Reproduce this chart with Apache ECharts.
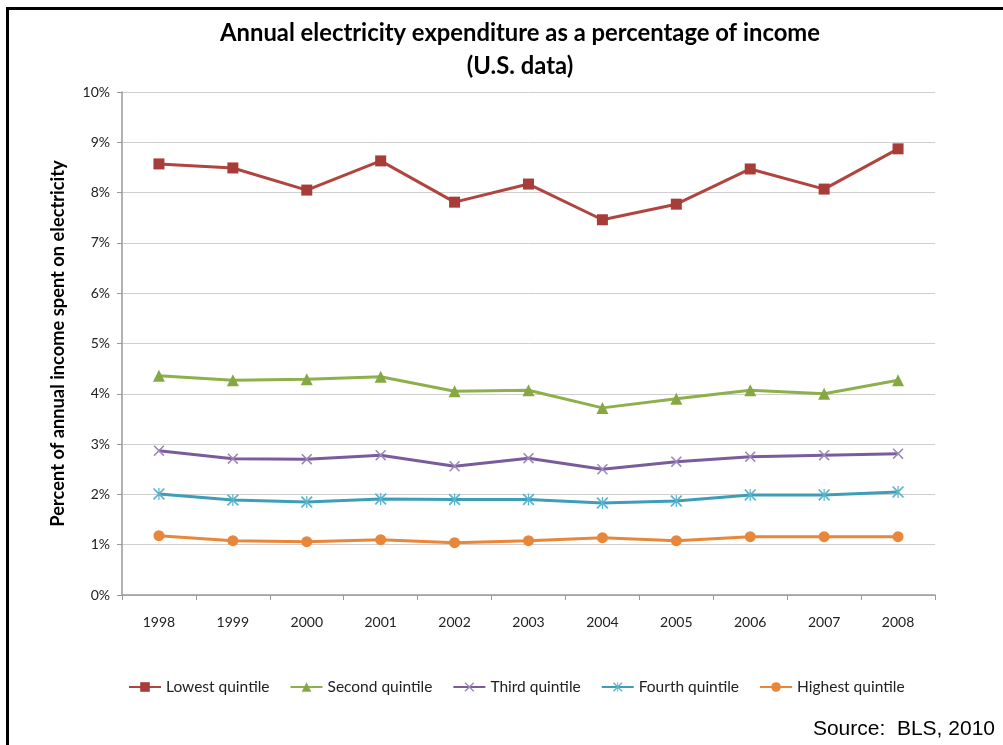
<!DOCTYPE html>
<html>
<head>
<meta charset="utf-8">
<script src="https://cdn.jsdelivr.net/npm/echarts@6/dist/echarts.min.js"></script>
<style>
html,body{margin:0;padding:0;background:#fff;}
#chart{width:1003px;height:745px;}
</style>
</head>
<body>
<div id="chart"></div>
<script>
const years = ['1998','1999','2000','2001','2002','2003','2004','2005','2006','2007','2008'];
const yTicks = ['0%','1%','2%','3%','4%','5%','6%','7%','8%','9%','10%'];
const lowest  = [8.57, 8.49, 8.05, 8.63, 7.81, 8.17, 7.46, 7.77, 8.47, 8.07, 8.87];
const second  = [4.36, 4.27, 4.29, 4.34, 4.05, 4.07, 3.72, 3.90, 4.07, 4.00, 4.27];
const third   = [2.87, 2.71, 2.70, 2.78, 2.56, 2.72, 2.50, 2.65, 2.75, 2.78, 2.81];
const fourth  = [2.01, 1.89, 1.85, 1.91, 1.90, 1.90, 1.83, 1.87, 1.99, 1.99, 2.05];
const highest = [1.18, 1.08, 1.06, 1.10, 1.04, 1.08, 1.14, 1.08, 1.16, 1.16, 1.16];
const seriesNames = ['Lowest quintile','Second quintile','Third quintile','Fourth quintile','Highest quintile'];

const FONT = 'Lato, "Open Sans", sans-serif';
const xSym = 'path://M0,0.1 L0.1,0 L0.5,0.4 L0.9,0 L1,0.1 L0.6,0.5 L1,0.9 L0.9,1 L0.5,0.6 L0.1,1 L0,0.9 L0.4,0.5 Z';
const starSym = 'path://M0,0.1 L0.1,0 L0.5,0.4 L0.9,0 L1,0.1 L0.6,0.5 L1,0.9 L0.9,1 L0.5,0.6 L0.1,1 L0,0.9 L0.4,0.5 Z M0.45,0 L0.55,0 L0.55,1 L0.45,1 Z';

function mk(name, data, color, symbol, size, symColor){
  return {
    name: name, type: 'line', data: data,
    symbol: symbol, symbolSize: size,
    lineStyle: {color: color, width: 3},
    itemStyle: {color: symColor || color, borderWidth: 0},
    emphasis: {disabled: true},
    animation: false
  };
}

const chart = echarts.init(document.getElementById('chart'));
chart.setOption({
  backgroundColor: '#ffffff',
  animation: false,
  title: {
    text: 'Annual electricity expenditure as a percentage of income\n(U.S. data)',
    left: 515, top: 12, textAlign: 'center',
    textStyle: {fontFamily: FONT, fontWeight: 'bold', fontSize: 23.8, lineHeight: 33, color: '#000'}
  },
  grid: {left: 122, right: 68, top: 92, bottom: 150, containLabel: false},
  legend: {
    bottom: 45, left: 123,
    itemWidth: 32, itemHeight: 12, itemGap: 20,
    textStyle: {fontFamily: FONT, fontSize: 15.5, color: '#222'},
    data: seriesNames
  },
  xAxis: {
    type: 'category', data: years, boundaryGap: true,
    axisLine: {lineStyle: {color: '#999', width: 1.5}},
    axisTick: {show: true, length: 5, lineStyle: {color: '#999'}},
    axisLabel: {margin: 20, fontFamily: FONT, fontSize: 14, color: '#222'},
    splitLine: {show: false}
  },
  yAxis: {
    type: 'value', min: 0, max: 10, interval: 1,
    name: 'Percent of annual income spent on electricity',
    nameLocation: 'middle', nameRotate: 90, nameGap: 55,
    nameTextStyle: {fontFamily: FONT, fontWeight: 'bold', fontSize: 18.3, color: '#000'},
    axisLine: {show: true, lineStyle: {color: '#999', width: 1.5}},
    axisTick: {show: true, length: 5, lineStyle: {color: '#999'}},
    axisLabel: {margin: 12, fontFamily: FONT, fontSize: 14, color: '#222',
      formatter: function(v){ return yTicks[Math.round(v)]; }},
    splitLine: {show: true, lineStyle: {color: '#cfcfcf', width: 1}}
  },
  series: [
    mk(seriesNames[0], lowest, '#B0443F', 'rect', 11, '#A83C38'),
    mk(seriesNames[1], second, '#8DB04B', 'triangle', 12, '#86A844'),
    mk(seriesNames[2], third, '#7A5C9C', xSym, 11, '#9C86BA'),
    mk(seriesNames[3], fourth, '#3E9EB8', starSym, 12, '#5AB4CC'),
    mk(seriesNames[4], highest, '#E8873A', 'circle', 11, '#E8873A')
  ],
  graphic: [
    {type: 'rect', silent: true, shape: {x: 7.5, y: 8.5, width: 1100, height: 900},
      style: {fill: 'none', stroke: '#000', lineWidth: 3}},
    {type: 'text', right: 8, top: 719, silent: true,
      style: {text: 'Source:  BLS, 2010', fontFamily: '"Liberation Sans", Arial, sans-serif', fontSize: 21, fill: '#000'}}
  ]
});
</script>
</body>
</html>
